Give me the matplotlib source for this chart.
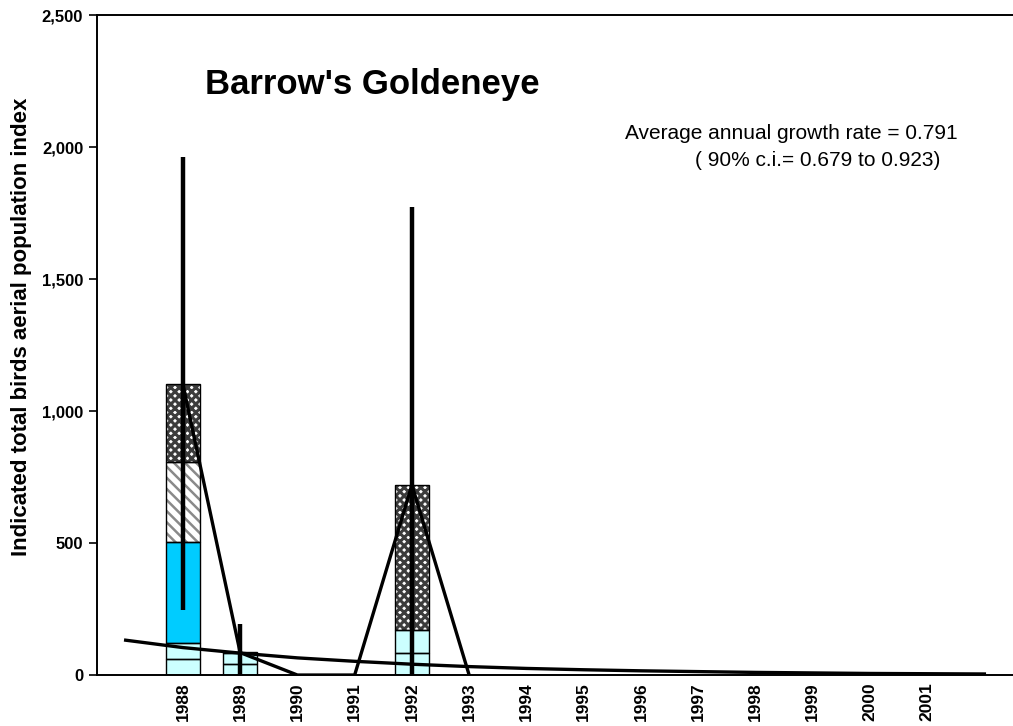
import matplotlib
matplotlib.use("Agg")
import matplotlib.pyplot as plt
import numpy as np
from matplotlib.ticker import FuncFormatter

plt.rcParams["font.family"] = ["Liberation Sans", "DejaVu Sans"]

# Data
years = [1987, 1988, 1989, 1990, 1991, 1992, 1993, 1994, 1995, 1996,
         1997, 1998, 1999, 2000, 2001, 2002]
labelled_years = [1988, 1989, 1990, 1991, 1992, 1993, 1994, 1995,
                  1996, 1997, 1998, 1999, 2000, 2001]

bar_years = [1988, 1989, 1992]
seg_low1 = [61, 42, 85]        # light cyan
seg_low2 = [61, 41, 85]        # light cyan
seg_cyan = [382, 3, 0]         # bright cyan
seg_striped = [304, 0, 0]      # diagonal stripes
seg_checker = [293, 0, 550]    # checkered

err_low = [246, 0, 0]
err_high = [1963, 193, 1774]

index_years = [1988, 1989, 1990, 1991, 1992, 1993]
index_vals = [1100, 85, 0, 0, 720, 0]

trend_vals = [132, 104, 83, 65, 52, 41, 32, 25, 20, 16, 13, 10, 8, 6, 5, 4]

growth_line1 = "Average annual growth rate = 0.791"
growth_line2 = "( 90% c.i.= 0.679 to 0.923)"

fig = plt.figure(figsize=(10.13, 7.26), dpi=100)
ax = fig.add_axes([0.0958, 0.0702, 0.9042, 0.9091])

pos = {y: i for i, y in enumerate(years)}
xb = np.array([pos[y] for y in bar_years])
w = 0.6

# (values, face, hatch, hatch colour, hatch linewidth)
segments = [
    (seg_low1, "#ccffff", None, None, 1.0),
    (seg_low2, "#ccffff", None, None, 1.0),
    (seg_cyan, "#00ccff", None, None, 1.0),
    (seg_striped, "#ffffff", "\\\\\\", "#8a8a8a", 1.8),
    (seg_checker, "#ffffff", "xxxx", "#3c3c3c", 2.2),
]
bottom = np.zeros(len(bar_years))
for vals, fc, hatch, hc, hlw in segments:
    vals = np.array(vals, dtype=float)
    mask = vals > 0
    if hatch:
        with plt.rc_context({"hatch.linewidth": hlw}):
            ax.bar(xb[mask], vals[mask], w, bottom=bottom[mask], color=fc,
                   hatch=hatch, edgecolor=hc, linewidth=0, zorder=2)
    else:
        ax.bar(xb[mask], vals[mask], w, bottom=bottom[mask], color=fc,
               linewidth=0, zorder=2)
    ax.bar(xb[mask], vals[mask], w, bottom=bottom[mask], fill=False,
           edgecolor="black", linewidth=1.0, zorder=3)
    bottom = bottom + vals

# trend line
ax.plot(range(len(years)), trend_vals, color="black", lw=2.4, zorder=4)

# index line
ax.plot([pos[y] for y in index_years], index_vals, color="black", lw=2.4,
        zorder=5, solid_joinstyle="miter")

# confidence bars
ax.vlines(xb, err_low, err_high, color="black", lw=3.2, zorder=6)

ax.set_xlim(-0.5, len(years) - 0.5)
ax.set_ylim(0, 2500)
ax.set_yticks(np.arange(0, 2501, 500))
ax.yaxis.set_major_formatter(FuncFormatter(lambda v, p: f"{int(v):,}"))
ax.set_xticks([pos[y] for y in labelled_years])
ax.set_xticklabels([str(y) for y in labelled_years], rotation=90,
                   fontweight="bold", fontsize=12.5)
ax.tick_params(axis="x", length=0, pad=5)
ax.tick_params(axis="y", length=6, width=1.2, direction="out", pad=4,
               labelsize=12)
for lab in ax.get_yticklabels():
    lab.set_fontweight("bold")

ax.spines["right"].set_visible(False)
for s in ("left", "top", "bottom"):
    ax.spines[s].set_linewidth(1.4)

ax.set_ylabel("Indicated total birds aerial population index",
              fontsize=16, fontweight="bold")
ax.yaxis.set_label_coords(-0.071, 0.527)

ax.text(0.118, 0.895, "Barrow's Goldeneye", transform=ax.transAxes,
        fontsize=25, fontweight="bold", va="center", ha="left")
ax.text(0.758, 0.821, growth_line1, transform=ax.transAxes, fontsize=15,
        ha="center", va="center")
ax.text(0.787, 0.780, growth_line2, transform=ax.transAxes, fontsize=15,
        ha="center", va="center")

fig.savefig("out.png", dpi=100)
